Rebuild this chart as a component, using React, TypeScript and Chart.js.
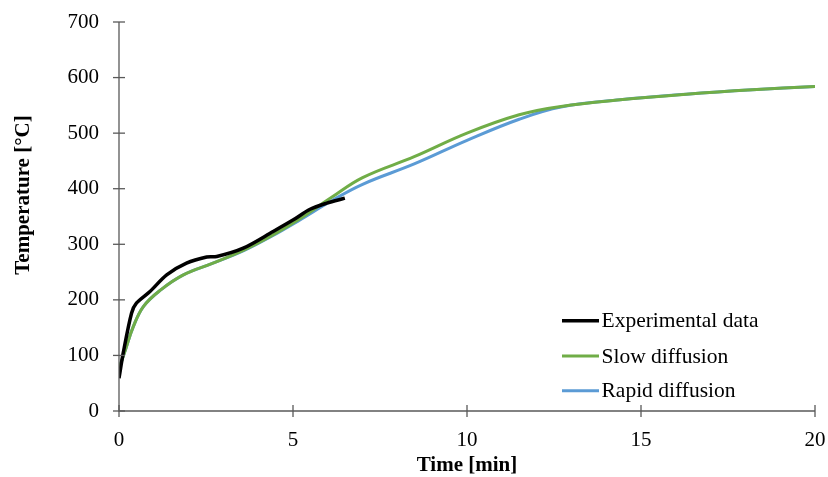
import React, { useEffect, useRef } from "react";
import { Chart, registerables } from "chart.js";

Chart.register(...registerables);

const expTime = [0, 0.12, 0.36, 0.5, 0.89, 1.37, 1.94, 2.52, 2.81, 3.57, 4.43, 5.01, 5.49, 5.97, 6.49];
const expTemp = [59, 104, 176, 194, 215, 245, 266, 277, 278, 293, 323, 344, 363, 374, 383];

const modelTime = [0, 0.2, 0.4, 0.7, 1.2, 1.85, 2.7, 3.6, 4.4, 5.2, 6.1, 7.0, 8.5, 10, 11.5, 12.7, 14.4, 16.3, 18.2, 20];
const slowTemp = [76, 113, 150, 188, 218, 245, 266, 290, 316, 346, 384, 420, 458, 500, 533, 548, 560, 570, 578, 584];
const rapidTemp = [76, 113, 150, 188, 218, 245, 266, 289, 315, 344, 378, 408, 445, 487, 525, 547, 560, 570, 578, 584];

const seriesLabels = ["Experimental data", "Slow diffusion", "Rapid diffusion"];
const xTitle = "Time [min]";
const yTitle = "Temperature [°C]";

const FONT = "'Liberation Serif', 'Times New Roman', serif";
const AXIS = "#595959";

const toPoints = (xs: number[], ys: number[]) => xs.map((x, i) => ({ x, y: ys[i] }));

const decorPlugin = {
  id: "decor",
  afterDraw(chart: any) {
    const ctx = chart.ctx as CanvasRenderingContext2D;
    const { left, right, top, bottom } = chart.chartArea;
    const xs = chart.scales.x;
    const ys = chart.scales.y;
    ctx.save();
    ctx.strokeStyle = AXIS;
    ctx.lineWidth = 1.3;
    ctx.beginPath();
    ctx.moveTo(left, top);
    ctx.lineTo(left, bottom);
    ctx.lineTo(right, bottom);
    ctx.stroke();
    ys.ticks.forEach((t: any) => {
      const y = ys.getPixelForValue(t.value);
      ctx.beginPath();
      ctx.moveTo(left - 6, y);
      ctx.lineTo(left + 6, y);
      ctx.stroke();
    });
    xs.ticks.forEach((t: any) => {
      const x = xs.getPixelForValue(t.value);
      ctx.beginPath();
      ctx.moveTo(x, bottom - 6);
      ctx.lineTo(x, bottom + 6);
      ctx.stroke();
    });
    // axis titles
    ctx.fillStyle = "#000";
    ctx.font = `bold 21px ${FONT}`;
    ctx.textAlign = "center";
    ctx.textBaseline = "middle";
    ctx.fillText(xTitle, (left + right) / 2, 466);
    ctx.save();
    ctx.translate(24, 195);
    ctx.rotate(-Math.PI / 2);
    ctx.fillText(yTitle, 0, 0);
    ctx.restore();
    // legend
    const rows = [320.7, 356, 390.7];
    chart.data.datasets.forEach((ds: any, i: number) => {
      ctx.strokeStyle = ds.borderColor;
      ctx.lineWidth = ds.borderWidth;
      ctx.beginPath();
      ctx.moveTo(562, rows[i]);
      ctx.lineTo(599, rows[i]);
      ctx.stroke();
      ctx.fillStyle = "#000";
      ctx.font = `21.5px ${FONT}`;
      ctx.textAlign = "left";
      ctx.textBaseline = "middle";
      ctx.fillText(ds.label, 601.5, rows[i] + 1);
    });
    ctx.restore();
  },
};

export default function App() {
  const ref = useRef<HTMLCanvasElement | null>(null);
  useEffect(() => {
    document.body.style.margin = "0";
    if (!ref.current) return;
    const chart = new Chart(ref.current, {
      type: "line",
      data: {
        datasets: [
          {
            label: seriesLabels[0],
            data: toPoints(expTime, expTemp),
            borderColor: "#000000",
            borderWidth: 3.5,
            pointRadius: 0,
            tension: 0.3,
          },
          {
            label: seriesLabels[1],
            data: toPoints(modelTime, slowTemp),
            borderColor: "#70AD47",
            borderWidth: 3,
            pointRadius: 0,
            tension: 0.4,
          },
          {
            label: seriesLabels[2],
            data: toPoints(modelTime, rapidTemp),
            borderColor: "#5B9BD5",
            borderWidth: 3,
            pointRadius: 0,
            tension: 0.4,
          },
        ],
      },
      options: {
        animation: false,
        responsive: false,
        layout: { padding: { top: 22, right: 13, left: 0, bottom: 0 } },
        plugins: { legend: { display: false }, tooltip: { enabled: false } },
        scales: {
          x: {
            type: "linear",
            min: 0,
            max: 20,
            ticks: { stepSize: 5, color: "#000", font: { family: FONT, size: 21 }, padding: 9, maxRotation: 0 },
            grid: { display: false },
            border: { display: false },
            afterFit: (s: any) => { s.height = 66; s.paddingLeft = 0; s.paddingRight = 0; },
          },
          y: {
            min: 0,
            max: 700,
            ticks: { stepSize: 100, color: "#000", font: { family: FONT, size: 21 }, padding: 12 },
            grid: { display: false },
            border: { display: false },
            afterFit: (s: any) => { s.width = 119; s.paddingTop = 0; s.paddingBottom = 0; },
          },
        },
      },
      plugins: [decorPlugin],
    });
    return () => chart.destroy();
  }, []);
  return (
    <div style={{ width: 828, height: 477 }}>
      <canvas ref={ref} width={828} height={477} />
    </div>
  );
}
